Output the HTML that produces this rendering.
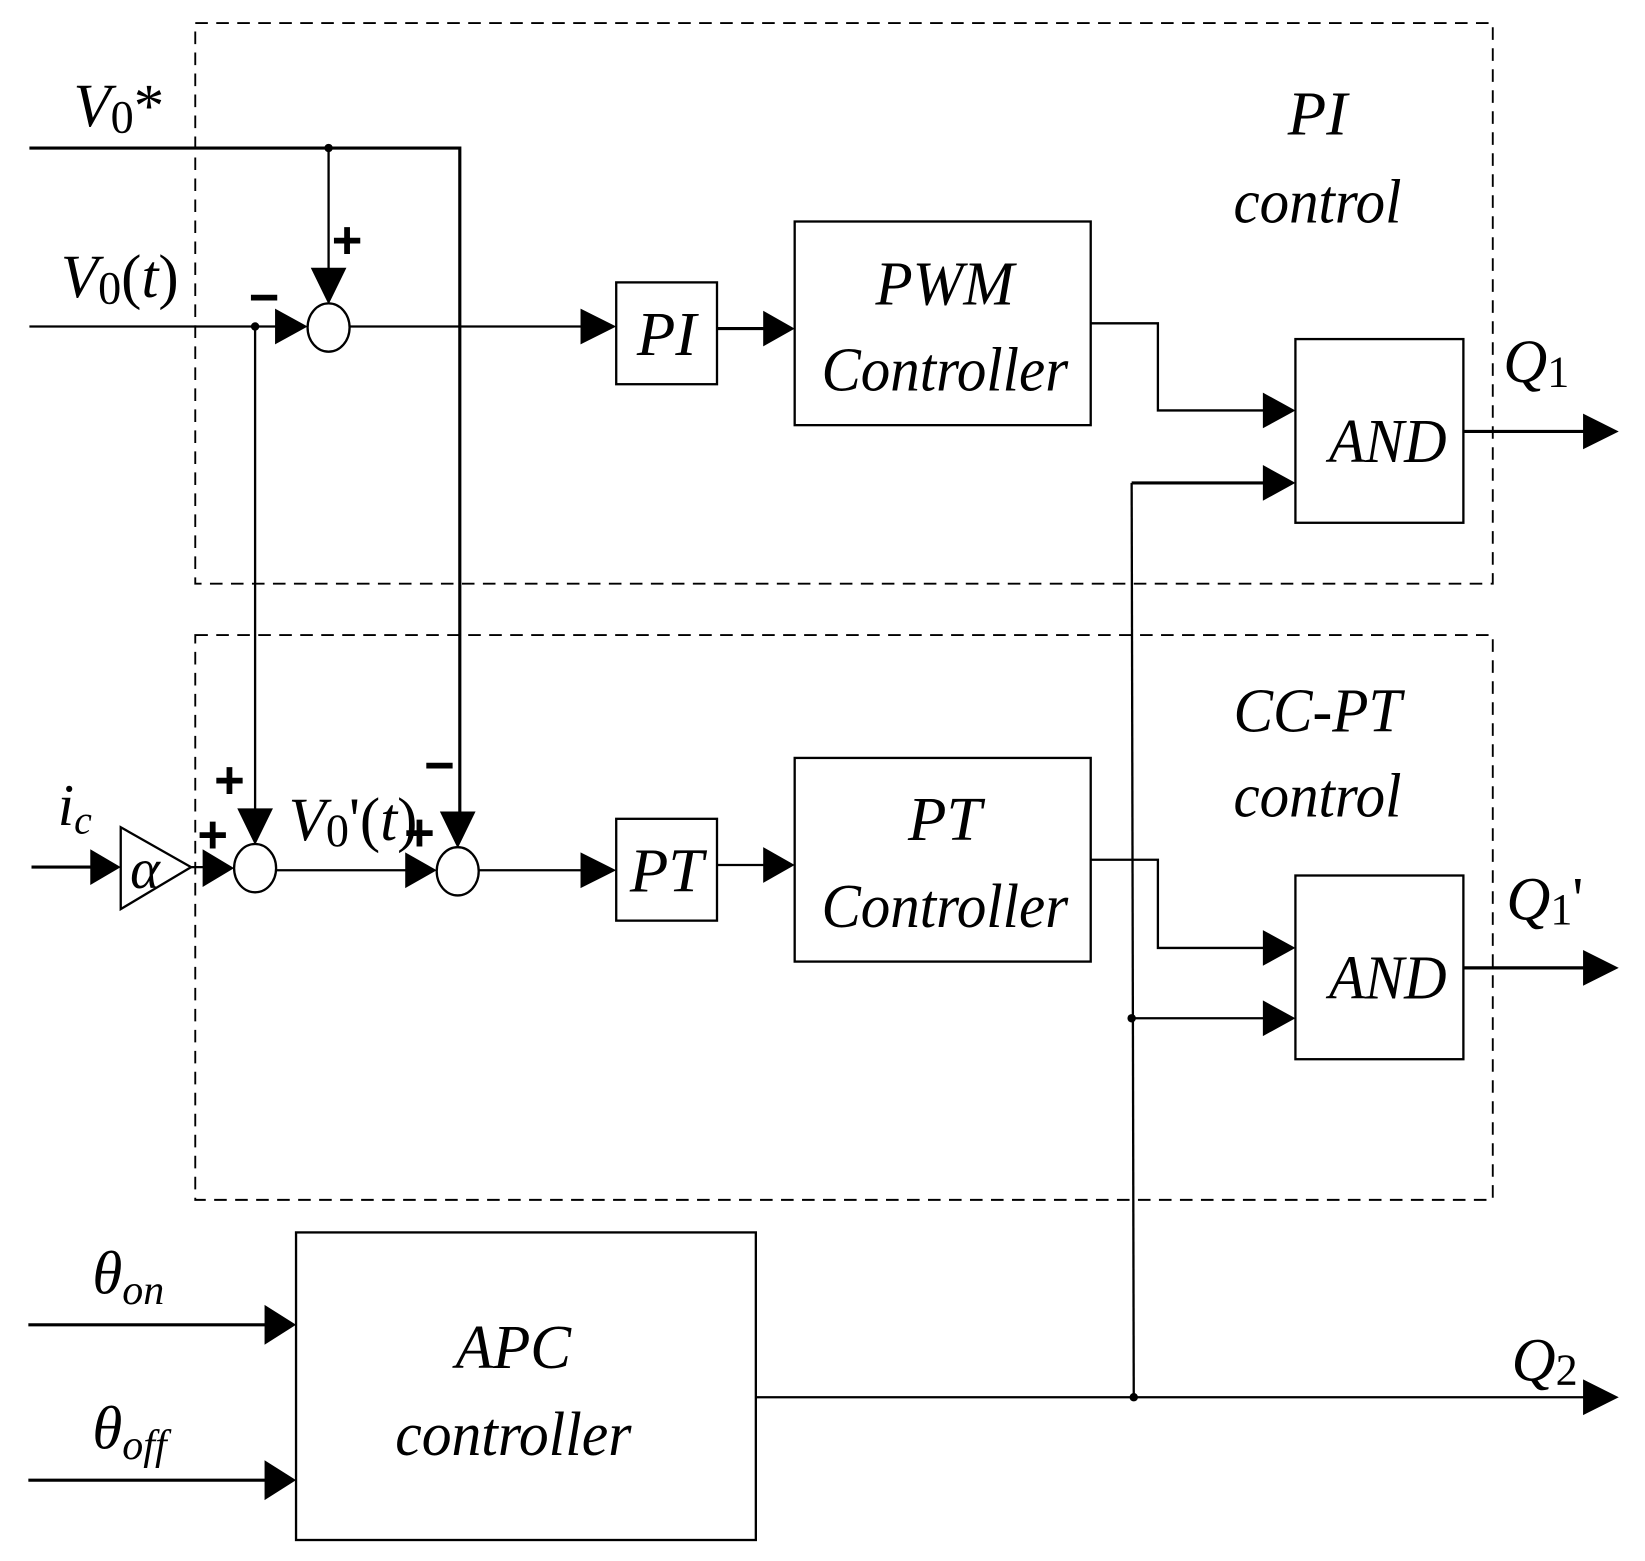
<!DOCTYPE html>
<html><head><meta charset="utf-8"><style>
html,body{margin:0;padding:0;background:#fff}
svg{display:block}
text{font-family:"Liberation Serif",serif;font-style:italic;fill:#000}
.s{font-family:"Liberation Sans",sans-serif;font-style:normal;font-weight:bold}
</style></head><body>
<svg width="1645" height="1561" viewBox="0 0 1567 1487" xmlns="http://www.w3.org/2000/svg">
<g fill="none" stroke="#000" stroke-width="2.2">
<rect x="186" y="22" width="1236" height="534" stroke-dasharray="12,8" stroke-width="1.8"/>
<rect x="186" y="605" width="1236" height="538" stroke-dasharray="12,8" stroke-width="1.8"/>
<rect x="587" y="269" width="96" height="97"/>
<rect x="757" y="211" width="282" height="194"/>
<rect x="1234" y="323" width="160" height="175"/>
<rect x="587" y="780" width="96" height="97"/>
<rect x="757" y="722" width="282" height="194"/>
<rect x="1234" y="834" width="160" height="175"/>
<rect x="282" y="1174" width="438" height="293"/>
<ellipse cx="313" cy="312" rx="20" ry="23"/>
<ellipse cx="243" cy="827" rx="20" ry="23"/>
<ellipse cx="436" cy="830" rx="20" ry="23"/>
<polygon points="115,788 182,826 115,866"/>
<polyline points="28,141 438,141 438,780" stroke-width="3"/>
<line x1="313" y1="141" x2="313" y2="270"/>
<line x1="28" y1="311" x2="275" y2="311"/>
<line x1="243" y1="311" x2="243" y2="785"/>
<line x1="333" y1="311" x2="560" y2="311"/>
<line x1="683" y1="313" x2="730" y2="313" stroke-width="3"/>
<polyline points="1039,308 1103,308 1103,391 1210,391"/>
<line x1="1078" y1="460" x2="1210" y2="460" stroke-width="3"/>
<line x1="1078" y1="460" x2="1080" y2="1331"/>
<line x1="1394" y1="411" x2="1515" y2="411" stroke-width="3"/>
<line x1="30" y1="826" x2="90" y2="826" stroke-width="3"/>
<line x1="182" y1="826" x2="200" y2="826"/>
<line x1="263" y1="829" x2="393" y2="829"/>
<line x1="456" y1="829" x2="560" y2="829"/>
<line x1="683" y1="824" x2="730" y2="824"/>
<polyline points="1039,819 1103,819 1103,903 1210,903"/>
<line x1="1078" y1="970" x2="1210" y2="970"/>
<line x1="1394" y1="922" x2="1515" y2="922" stroke-width="3"/>
<line x1="27" y1="1262" x2="258" y2="1262" stroke-width="3"/>
<line x1="27" y1="1410" x2="258" y2="1410" stroke-width="3"/>
<line x1="720" y1="1331" x2="1515" y2="1331"/>
</g>
<g fill="#000">
<circle cx="313" cy="141" r="4"/><circle cx="243" cy="311" r="4"/>
<circle cx="1078" cy="970" r="4"/><circle cx="1080" cy="1331" r="4"/>
<polygon points="296,255 313,290 330,255"/>
<polygon points="262,294 293,311 262,328"/>
<polygon points="553,294 587,311 553,328"/>
<polygon points="727,296 757,313 727,330"/>
<polygon points="1203,374 1234,391 1203,408"/>
<polygon points="1203,443 1234,460 1203,477"/>
<polygon points="1508,394 1542,411 1508,428"/>
<polygon points="226,770 243,805 260,770"/>
<polygon points="419,773 436,808 453,773"/>
<polygon points="86,809 115,826 86,843"/>
<polygon points="193,809 223,827 193,845"/>
<polygon points="386,812 416,829 386,846"/>
<polygon points="553,812 587,829 553,846"/>
<polygon points="727,807 757,824 727,841"/>
<polygon points="1203,886 1234,903 1203,920"/>
<polygon points="1203,953 1234,970 1203,987"/>
<polygon points="1508,905 1542,922 1508,939"/>
<polygon points="1508,1314 1542,1331 1508,1348"/>
<polygon points="252,1243 282,1262 252,1281"/>
<polygon points="252,1391 282,1410 252,1429"/>
</g>
<text x="70" y="120" font-size="58">V<tspan font-style="normal" font-size="44" dy="6">0</tspan><tspan font-style="normal" dy="-6">*</tspan></text>
<text x="58" y="283" font-size="58">V<tspan font-style="normal" font-size="44" dy="6">0</tspan><tspan font-style="normal" dy="-6">(</tspan>t<tspan font-style="normal">)</tspan></text>
<text class="s" x="316" y="246" font-size="50">+</text>
<text class="s" x="237" y="300" font-size="50">−</text>
<text x="55" y="786" font-size="56">i<tspan font-size="38" dy="8">c</tspan></text>
<text x="124" y="846" font-size="54">α</text>
<text class="s" x="204" y="760" font-size="50">+</text>
<text class="s" x="188" y="812" font-size="50">+</text>
<text class="s" x="404" y="746" font-size="50">−</text>
<text class="s" x="385" y="810" font-size="50">+</text>
<text x="275" y="800" font-size="58">V<tspan font-style="normal" font-size="44" dy="6">0</tspan><tspan font-style="normal" dy="-6">'(</tspan>t<tspan font-style="normal">)</tspan></text>
<text x="1255" y="128" font-size="60" text-anchor="middle">PI</text>
<text x="1255" y="212" font-size="60" text-anchor="middle" textLength="160" lengthAdjust="spacingAndGlyphs">control</text>
<text x="1255" y="697" font-size="60" text-anchor="middle" textLength="160" lengthAdjust="spacingAndGlyphs">CC-PT</text>
<text x="1255" y="778" font-size="60" text-anchor="middle" textLength="160" lengthAdjust="spacingAndGlyphs">control</text>
<text x="635" y="338" font-size="60" text-anchor="middle">PI</text>
<text x="635" y="849" font-size="60" text-anchor="middle">PT</text>
<text x="900" y="290" font-size="60" text-anchor="middle" textLength="132" lengthAdjust="spacingAndGlyphs">PWM</text>
<text x="900" y="372" font-size="60" text-anchor="middle" textLength="235" lengthAdjust="spacingAndGlyphs">Controller</text>
<text x="900" y="800" font-size="60" text-anchor="middle">PT</text>
<text x="900" y="883" font-size="60" text-anchor="middle" textLength="235" lengthAdjust="spacingAndGlyphs">Controller</text>
<text x="1322" y="440" font-size="60" text-anchor="middle" textLength="112" lengthAdjust="spacingAndGlyphs">AND</text>
<text x="1322" y="951" font-size="60" text-anchor="middle" textLength="112" lengthAdjust="spacingAndGlyphs">AND</text>
<text x="489" y="1303" font-size="60" text-anchor="middle" textLength="110" lengthAdjust="spacingAndGlyphs">APC</text>
<text x="489" y="1386" font-size="60" text-anchor="middle" textLength="225" lengthAdjust="spacingAndGlyphs">controller</text>
<text x="1432" y="364" font-size="58">Q<tspan font-style="normal" font-size="42" dy="4">1</tspan></text>
<text x="1435" y="876" font-size="58">Q<tspan font-style="normal" font-size="42" dy="4">1</tspan><tspan font-style="normal" dy="-4">'</tspan></text>
<text x="1440" y="1315" font-size="58">Q<tspan font-style="normal" font-size="42" dy="4">2</tspan></text>
<text x="88" y="1232" font-size="58">θ<tspan font-size="40" dy="10">on</tspan></text>
<text x="88" y="1380" font-size="58">θ<tspan font-size="40" dy="10">off</tspan></text>
</svg>
</body></html>
